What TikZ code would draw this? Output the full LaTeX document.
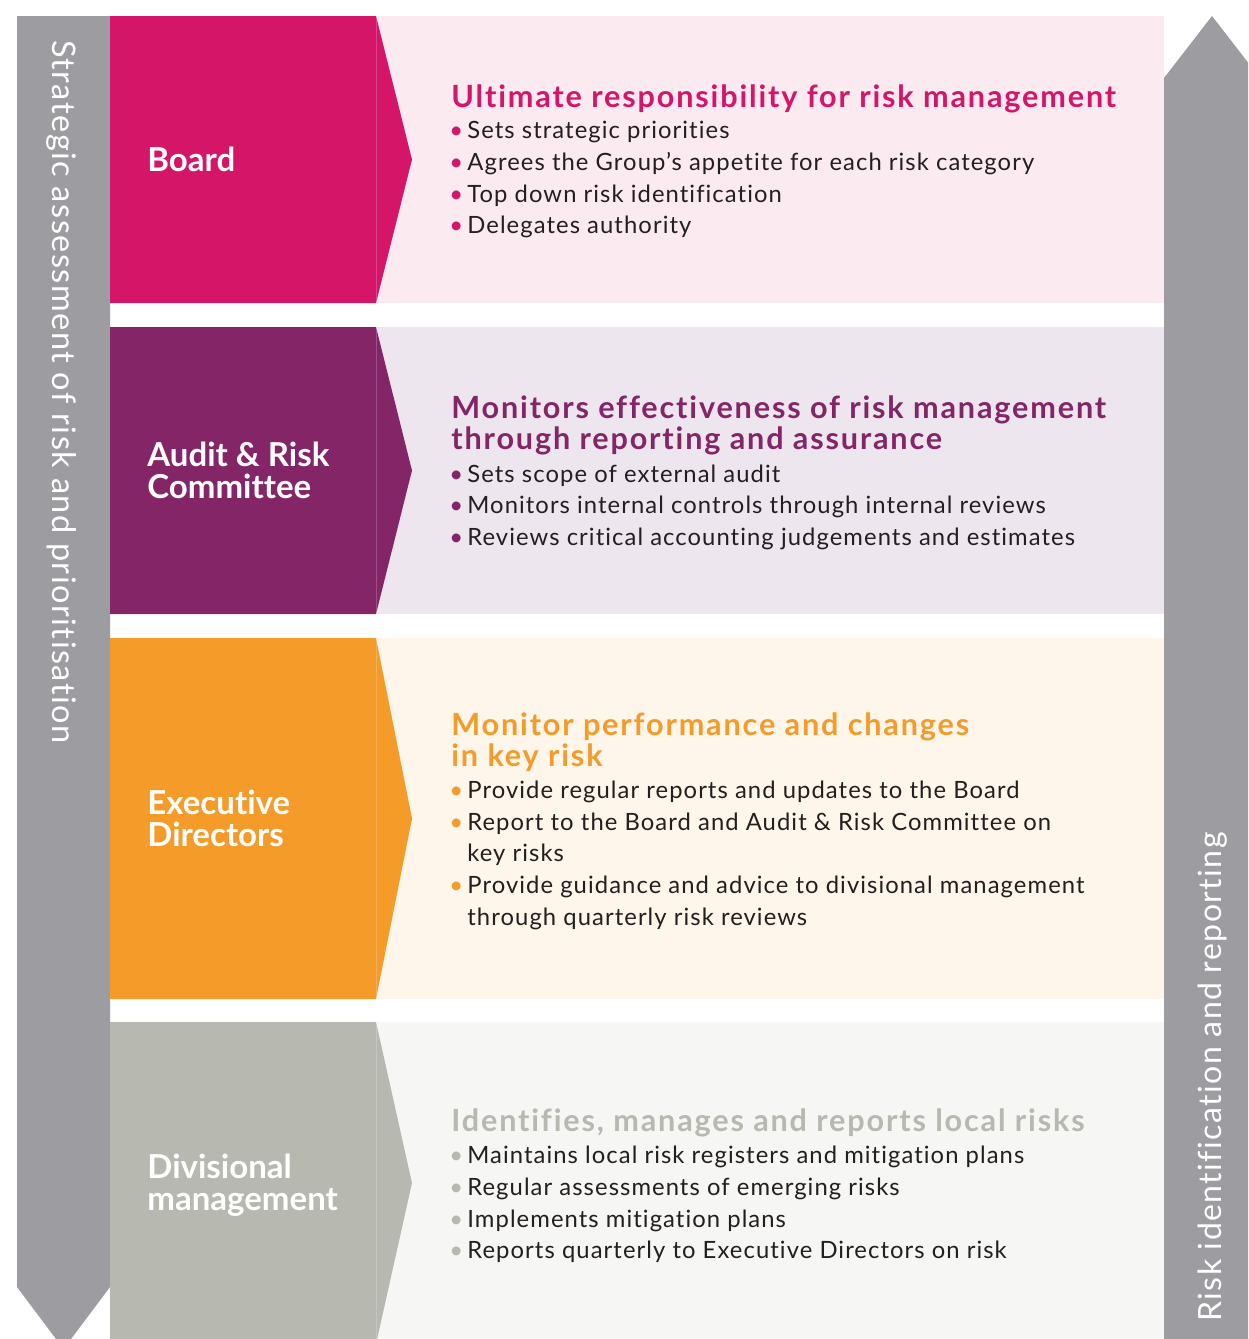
\documentclass[tikz,border=0pt]{standalone}
\usepackage{fontspec}
\setmainfont{Lato}[Ligatures={NoCommon,NoContextual}]
\newfontfamily\spacedfont{Lato}[LetterSpace=4.5, Ligatures={NoCommon,NoContextual}]
\newfontfamily\ttlfont{Lato}[LetterSpace=6, Ligatures={NoCommon,NoContextual}]
\usepackage{tikz}
\tikzset{>=latex}

\definecolor{boardc}{HTML}{D41568}
\definecolor{boardp}{HTML}{FBEBF1}
\definecolor{auditc}{HTML}{842567}
\definecolor{auditp}{HTML}{EEE6EF}
\definecolor{execc}{HTML}{F49B2A}
\definecolor{execp}{HTML}{FEF5EB}
\definecolor{divc}{HTML}{B7B8AF}
\definecolor{divp}{HTML}{F6F6F4}
\definecolor{arrowc}{HTML}{9D9CA1}
\definecolor{txtc}{HTML}{231F20}

\tikzset{
  lbl/.style={anchor=west, align=left, inner sep=0, text=white,
    font=\fontsize{16.5}{16}\selectfont\bfseries},
  ttl/.style={anchor=base west, inner sep=0, text=#1,
    font=\ttlfont\fontsize{15.3}{15.5}\selectfont\bfseries},
  itm/.style={anchor=base west, inner sep=0, text=txtc,
    font=\spacedfont\fontsize{11.9}{15.9}\selectfont},
  side/.style={inner sep=0, text=white, font=\spacedfont\fontsize{16}{16}\selectfont},
}
\newcommand{\bul}[1]{\makebox[9pt][l]{\textcolor{#1}{\textbullet}}}

\begin{document}
\begin{tikzpicture}[x=0.5pt,y=-0.5pt]

  \useasboundingbox (0,0) rectangle (1248,1339);
  \clip (0,0) rectangle (1248,1339);

  % Side arrows
  \fill[arrowc] (17,16) -- (110,16) -- (110,1287) -- (63.5,1349) -- (17,1287) -- cycle;
  \fill[arrowc] (1164,1339) -- (1164,78) -- (1212,16) -- (1260,78) -- (1260,1339) -- cycle;

  % Bands
  \fill[boardp] (376,16) rectangle (1164,303);
  \fill[boardc] (110,16) -- (376,16) -- (412,159.5) -- (376,303) -- (110,303) -- cycle;
  \draw[white, opacity=.2, line width=.4pt] (376,16) -- (376,303);

  \fill[auditp] (376,327) rectangle (1164,614);
  \fill[auditc] (110,327) -- (376,327) -- (412,470.5) -- (376,614) -- (110,614) -- cycle;
  \draw[white, opacity=.2, line width=.4pt] (376,327) -- (376,614);

  \fill[execp] (376,638) rectangle (1164,999);
  \fill[execc] (110,638) -- (376,638) -- (412,818.5) -- (376,999) -- (110,999) -- cycle;
  \draw[white, opacity=.2, line width=.4pt] (376,638) -- (376,999);

  \fill[divp] (376,1022) rectangle (1164,1339);
  \fill[divc] (110,1022) -- (376,1022) -- (412,1183) -- (376,1344) -- (110,1344) -- cycle;
  \draw[white, opacity=.2, line width=.4pt] (376,1022) -- (376,1339);

  % Nodes
  \node[side, rotate=-90, anchor=west, font=\spacedfont\fontsize{16.25}{16}\selectfont]
    (strat) at (62,40) {Strategic assessment of risk and prioritisation};
  \node[side, rotate=90, anchor=west] (riskid) at (1213,1322)
    {Risk identification and reporting};

  \node[lbl] (board) at (147,159.5) {Board};
  \node[lbl] (audit) at (147,470.5) {Audit \& Risk\\Committee};
  \node[lbl] (exec) at (147,818.5) {Executive\\Directors};
  \node[lbl] (div) at (147,1185) {Divisional\\management};

  % Board
  \node[ttl=boardc] (boardT) at (451,107) {Ultimate responsibility for risk management};
  \node[itm] (boardA) at (449,138) {\bul{boardc}Sets strategic priorities};
  \node[itm] (boardB) at (449,170) {\bul{boardc}Agrees the Group’s appetite for each risk category};
  \node[itm] (boardC) at (449,202) {\bul{boardc}Top down risk identification};
  \node[itm] (boardD) at (449,233) {\bul{boardc}Delegates authority};

  % Audit & Risk Committee
  \node[ttl=auditc] (auditT) at (451,418) {Monitors effectiveness of risk management};
  \node[ttl=auditc] (auditU) at (451,449) {through reporting and assurance};
  \node[itm] (auditA) at (449,482) {\bul{auditc}Sets scope of external audit};
  \node[itm] (auditB) at (449,513) {\bul{auditc}Monitors internal controls through internal reviews};
  \node[itm] (auditC) at (449,545) {\bul{auditc}Reviews critical accounting judgements and estimates};

  % Executive Directors
  \node[ttl=execc] (execT) at (451,735) {Monitor performance and changes};
  \node[ttl=execc] (execU) at (451,766) {in key risk};
  \node[itm] (execA) at (449,798) {\bul{execc}Provide regular reports and updates to the Board};
  \node[itm] (execB) at (449,830) {\bul{execc}Report to the Board and Audit \& Risk Committee on};
  \node[itm] (execC) at (467,861.5) {key risks};
  \node[itm] (execD) at (449,893) {\bul{execc}Provide guidance and advice to divisional management};
  \node[itm] (execE) at (467,925) {through quarterly risk reviews};

  % Divisional management
  \node[ttl=divc] (divT) at (451,1131.5) {Identifies, manages and reports local risks};
  \node[itm] (divA) at (449,1163) {\bul{divc}Maintains local risk registers and mitigation plans};
  \node[itm] (divB) at (449,1195) {\bul{divc}Regular assessments of emerging risks};
  \node[itm] (divC) at (449,1227) {\bul{divc}Implements mitigation plans};
  \node[itm] (divD) at (449,1258) {\bul{divc}Reports quarterly to Executive Directors on risk};

\end{tikzpicture}
\end{document}
